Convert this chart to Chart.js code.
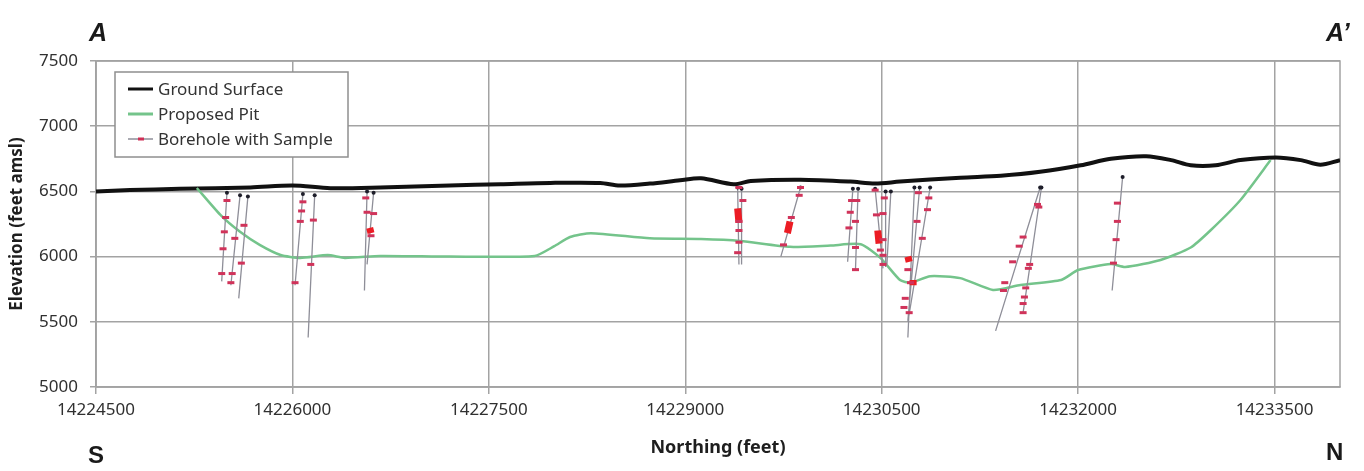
<!DOCTYPE html>
<html>
<head>
<meta charset="utf-8">
<script src="https://cdn.jsdelivr.net/npm/chart.js@4/dist/chart.umd.min.js"></script>
<style>
    html, body { margin: 0; padding: 0; background: #ffffff; }
    #wrap { position: relative; width: 1364px; height: 471px; }
    .mark { position: absolute; font-family: "Liberation Sans", Arial, sans-serif; font-weight: bold; color: #1a1a1a; }
    .italic { font-style: italic; }
</style>
</head>
<body>
<div id="wrap">
    <canvas id="section" width="1364" height="471"></canvas>
    <div class="mark italic" style="left:89px; top:18px; font-size:25px;">A</div>
    <div class="mark italic" style="left:1326px; top:18px; font-size:25px;">A’</div>
    <div class="mark" style="left:88px; top:441px; font-size:24px;">S</div>
    <div class="mark" style="left:1326px; top:438px; font-size:24px;">N</div>
</div>
<script>
// Axis ticks
const xTicks = [14224500, 14226000, 14227500, 14229000, 14230500, 14232000, 14233500];
const yTicks = [5000, 5500, 6000, 6500, 7000, 7500];

// Ground surface profile
const groundX = [14224500, 14224760, 14225140, 14225680, 14226000, 14226290, 14226670, 14227200, 14227590, 14227970,
    14228350, 14228500, 14228730, 14228960, 14229120, 14229370, 14229500, 14229880, 14230260, 14230450,
    14230640, 14231100, 14231410, 14231710, 14232020, 14232250, 14232520, 14232710, 14232860, 14233050,
    14233240, 14233510, 14233700, 14233850, 14234000];
const groundY = [6500, 6510, 6520, 6530, 6545, 6525, 6530, 6545, 6555, 6565,
    6565, 6545, 6560, 6585, 6600, 6555, 6580, 6590, 6575, 6560,
    6575, 6605, 6620, 6650, 6700, 6750, 6770, 6740, 6700, 6700,
    6740, 6760, 6740, 6705, 6740];

// Proposed pit outline
const pitX = [14225270, 14225450, 14225600, 14225750, 14225910, 14226060, 14226270, 14226400, 14226670, 14227200,
    14227850, 14228000, 14228120, 14228280, 14228730, 14229120, 14229420, 14229800, 14230110, 14230340,
    14230490, 14230640, 14230720, 14230870, 14231100, 14231350, 14231560, 14231870, 14232000, 14232250,
    14232360, 14232630, 14232860, 14233010, 14233240, 14233470];
const pitY = [6526, 6320, 6190, 6090, 6012, 5990, 6012, 5990, 6005, 6000,
    6005, 6080, 6150, 6180, 6140, 6135, 6120, 6075, 6085, 6095,
    5990, 5820, 5800, 5850, 5835, 5744, 5782, 5820, 5897, 5943,
    5920, 5974, 6070, 6200, 6434, 6740];

// Boreholes: collar and bottom of each trace
const holeTopX = [14225500, 14225600, 14225660, 14226080, 14226170, 14226570, 14226620, 14229400, 14229430, 14229880,
    14230280, 14230320, 14230450, 14230530, 14230570, 14230750, 14230790, 14230870, 14231710, 14231720, 14232340];
const holeTopY = [6490, 6470, 6460, 6480, 6470, 6500, 6490, 6530, 6520, 6530,
    6520, 6520, 6520, 6500, 6500, 6530, 6530, 6530, 6530, 6530, 6610];
const holeBottomX = [14225460, 14225530, 14225590, 14226020, 14226120, 14226550, 14226570, 14229410, 14229430, 14229730,
    14230240, 14230300, 14230510, 14230530, 14230540, 14230700, 14230700, 14230700, 14231370, 14231580, 14232260];
const holeBottomY = [5810, 5780, 5680, 5780, 5380, 5740, 5940, 5940, 5940, 6000,
    5960, 5900, 5910, 5920, 5940, 5380, 5510, 5500, 5430, 5570, 5740];

// Sample points along the boreholes
const sampleX = [14225500, 14225490, 14225480, 14225470, 14225460, 14225560, 14225540, 14225530, 14225630, 14225610,
    14226080, 14226070, 14226060, 14226020, 14226160, 14226140, 14226560, 14226570, 14226620, 14226600,
    14229410, 14229440, 14229410, 14229410, 14229410, 14229400, 14229880, 14229870, 14229810, 14229750,
    14230270, 14230260, 14230250, 14230310, 14230300, 14230300, 14230300, 14230450, 14230460, 14230490,
    14230510, 14230520, 14230510, 14230510, 14230510, 14230700, 14230680, 14230670, 14230780, 14230770,
    14230710, 14230860, 14230850, 14230810, 14230720, 14231690, 14231580, 14231550, 14231500, 14231440,
    14231430, 14231700, 14231630, 14231620, 14231600, 14231590, 14231580, 14231580, 14232300, 14232300,
    14232290, 14232270];
const sampleY = [6430, 6300, 6190, 6060, 5870, 6140, 5870, 5800, 6240, 5950,
    6420, 6350, 6270, 5800, 6280, 5940, 6450, 6340, 6330, 6160,
    6530, 6430, 6270, 6200, 6110, 6030, 6530, 6470, 6300, 6090,
    6430, 6340, 6220, 6430, 6270, 6070, 5900, 6510, 6320, 6050,
    5940, 6450, 6330, 6130, 6010, 5900, 5680, 5610, 6490, 6270,
    5570, 6450, 6360, 6140, 5800, 6400, 6150, 6080, 5960, 5800,
    5740, 6380, 5940, 5910, 5760, 5690, 5640, 5570, 6410, 6270,
    6130, 5950];

// Longer sampled intervals (drawn as thick red bars)
const intervalTopX = [14226590, 14229400, 14229800, 14230470, 14230700, 14230740];
const intervalTopY = [6220, 6370, 6270, 6200, 6000, 5820];
const intervalBottomX = [14226600, 14229410, 14229780, 14230480, 14230710, 14230740];
const intervalBottomY = [6180, 6260, 6180, 6100, 5960, 5780];

const FONT = "'Noto Sans', 'DejaVu Sans', sans-serif";
const GRID = '#a3a3a3';

function toPoints(xs, ys) {
    return xs.map((x, i) => ({ x: x, y: ys[i] }));
}

// segments separated by a null point so the line breaks between them
function toSegments(x1, y1, x2, y2) {
    return x1.flatMap((x, i) => [
        { x: x, y: y1[i] },
        { x: x2[i], y: y2[i] },
        { x: x2[i], y: null }
    ]);
}

// box around the plot area (right edge has no tick)
const frame = {
    id: 'frame',
    beforeDatasetsDraw(chart) {
        const { ctx, chartArea: a } = chart;
        ctx.save();
        ctx.strokeStyle = GRID;
        ctx.lineWidth = 1.5;
        ctx.strokeRect(a.left, a.top, a.right - a.left, a.bottom - a.top);
        ctx.restore();
    }
};

// legend drawn inside the plot, Excel style
const boxLegend = {
    id: 'boxLegend',
    afterDraw(chart) {
        const { ctx, chartArea: a } = chart;
        const items = chart.data.datasets.filter(d => d.legendRank).sort((p, q) => p.legendRank - q.legendRank);
        const x0 = a.left + 19, y0 = a.top + 11;
        ctx.save();
        ctx.fillStyle = '#ffffff';
        ctx.fillRect(x0, y0, 233, 85);
        ctx.strokeStyle = '#8f8f8f';
        ctx.lineWidth = 1.5;
        ctx.strokeRect(x0, y0, 233, 85);
        ctx.font = '17px ' + FONT;
        ctx.textBaseline = 'middle';
        items.forEach((d, i) => {
            const y = y0 + 17 + i * 25;
            ctx.strokeStyle = d.borderColor;
            ctx.lineWidth = d.legendWidth;
            ctx.beginPath();
            ctx.moveTo(x0 + 13, y);
            ctx.lineTo(x0 + 38, y);
            ctx.stroke();
            if (d.legendMarker) {
                ctx.strokeStyle = d.legendMarker;
                ctx.lineWidth = 3;
                ctx.beginPath();
                ctx.moveTo(x0 + 23, y);
                ctx.lineTo(x0 + 29, y);
                ctx.stroke();
            }
            ctx.fillStyle = '#333333';
            ctx.fillText(d.label, x0 + 43, y + 1);
        });
        ctx.restore();
    }
};

const chart = new Chart(document.getElementById('section'), {
    type: 'line',
    data: {
        datasets: [
            {
                label: 'Ground Surface',
                data: toPoints(groundX, groundY),
                borderColor: '#111111',
                borderWidth: 4,
                pointRadius: 0,
                tension: 0.3,
                legendRank: 1,
                legendWidth: 3,
                order: 5
            },
            {
                label: 'Proposed Pit',
                data: toPoints(pitX, pitY),
                borderColor: '#74c48b',
                borderWidth: 2.5,
                pointRadius: 0,
                tension: 0.2,
                legendRank: 2,
                legendWidth: 3,
                order: 4
            },
            {
                label: 'Borehole with Sample',
                data: toSegments(holeTopX, holeTopY, holeBottomX, holeBottomY),
                borderColor: '#8e8e98',
                borderWidth: 1.3,
                pointRadius: 0,
                legendRank: 3,
                legendWidth: 1.5,
                legendMarker: '#cf2f55',
                order: 3
            },
            {
                label: 'Collars',
                data: toPoints(holeTopX, holeTopY),
                showLine: false,
                pointRadius: 2,
                pointBackgroundColor: '#1e1e2a',
                pointBorderWidth: 0,
                order: 2
            },
            {
                label: 'Sample intervals',
                data: toSegments(intervalTopX, intervalTopY, intervalBottomX, intervalBottomY),
                borderColor: '#ec1c24',
                borderWidth: 7,
                borderCapStyle: 'butt',
                pointRadius: 0,
                order: 1
            },
            {
                label: 'Borehole samples',
                data: toPoints(sampleX, sampleY),
                showLine: false,
                pointStyle: 'line',
                pointRadius: 3.5,
                pointBorderWidth: 3,
                pointBorderColor: '#d0335a',
                pointHoverRadius: 3.5,
                order: 0
            }
        ]
    },
    options: {
        responsive: false,
        animation: false,
        layout: { padding: { top: 61, right: 24, left: 0, bottom: 0 } },
        plugins: {
            legend: { display: false },
            tooltip: { enabled: false }
        },
        scales: {
            x: {
                type: 'linear',
                min: 14224500,
                max: 14234000,
                afterBuildTicks: scale => { scale.ticks = xTicks.map(v => ({ value: v })); },
                afterFit: scale => { scale.height = 84; },
                ticks: {
                    autoSkip: false,
                    maxRotation: 0,
                    padding: 6,
                    color: '#303030',
                    font: { family: FONT, size: 17 },
                    callback: v => String(v)
                },
                grid: { color: GRID, lineWidth: 1.5, tickLength: 7 },
                border: { color: GRID, width: 1.5 },
                title: {
                    display: true,
                    text: 'Northing (feet)',
                    color: '#1e1e1e',
                    font: { family: FONT, size: 18, weight: 'bold' },
                    padding: { top: 0, bottom: 12 }
                }
            },
            y: {
                min: 5000,
                max: 7500,
                afterBuildTicks: scale => { scale.ticks = yTicks.map(v => ({ value: v })); },
                afterFit: scale => { scale.width = 96; },
                ticks: {
                    padding: 12,
                    color: '#303030',
                    font: { family: FONT, size: 17 },
                    callback: v => String(v)
                },
                grid: { color: GRID, lineWidth: 1.5, tickLength: 6 },
                border: { color: GRID, width: 1.5 },
                title: {
                    display: true,
                    text: 'Elevation (feet amsl)',
                    color: '#1e1e1e',
                    font: { family: FONT, size: 17, weight: 'bold' },
                    padding: { top: 7, bottom: 0 }
                }
            }
        }
    },
    plugins: [frame, boxLegend]
});
</script>
</body>
</html>
